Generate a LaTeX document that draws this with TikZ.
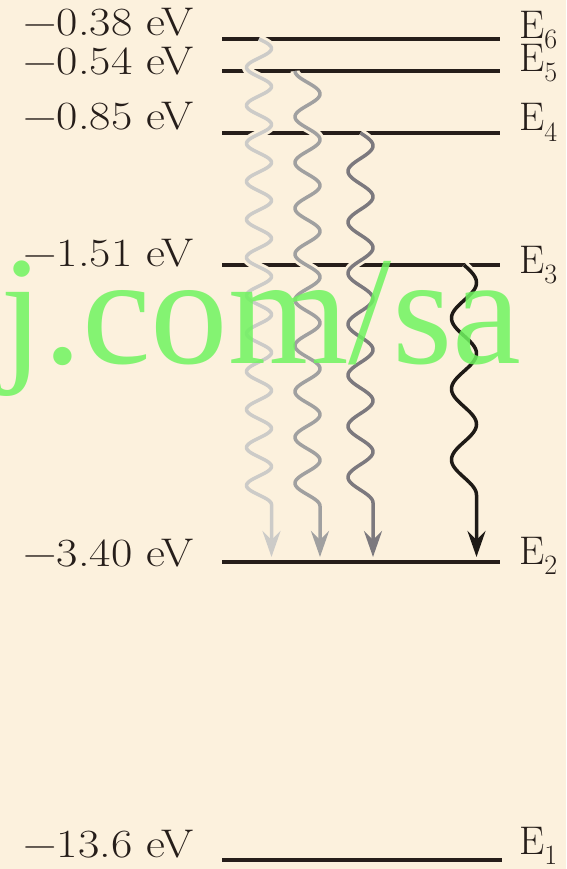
\documentclass[tikz,border=0pt]{standalone}
\usepackage{fontspec}
\usepackage{tikz}
\usetikzlibrary{arrows.meta,calc}
\newfontfamily\wmfont{Liberation Serif}
\definecolor{paper}{RGB}{252,241,221}
\definecolor{lvlink}{RGB}{38,30,26}
\definecolor{wmgreen}{RGB}{112,244,96}
\definecolor{ph6}{RGB}{204,203,200}
\definecolor{ph5}{RGB}{160,160,160}
\definecolor{ph4}{RGB}{124,121,126}
\definecolor{ph3}{RGB}{30,26,22}
\newcommand{\evlbl}[1]{\scalebox{1.16}[1]{−#1 eV}}

\begin{document}
\begin{tikzpicture}[
  x=1pt, y=1pt,
  font=\fontsize{40}{42}\selectfont,
  level/.style={draw=lvlink, line width=4pt},
  val/.style={anchor=base east, text=lvlink, inner sep=0pt},
  sym/.style={anchor=base west, text=lvlink, inner sep=0pt},
  photon/.style={line width=3.5pt, line join=round,
     -{Stealth[length=26pt, width=18pt, inset=9pt]},
     preaction={draw=paper, line width=9pt, -}},
  wmark/.style={anchor=base west, text=wmgreen, text opacity=0.85, inner sep=0pt,
     font=\wmfont\fontsize{155}{155}\selectfont},
]
\useasboundingbox (0,0) rectangle (566,869);
\fill[paper] (0,0) rectangle (566,869);

% ---- energy levels ----
\coordinate (e6l) at (222,830); \coordinate (e6r) at (500,830);
\coordinate (e5l) at (222,798); \coordinate (e5r) at (500,798);
\coordinate (e4l) at (222,736); \coordinate (e4r) at (500,736);
\coordinate (e3l) at (222,604); \coordinate (e3r) at (500,604);
\coordinate (e2l) at (222,307); \coordinate (e2r) at (500,307);
\coordinate (e1l) at (222,9);   \coordinate (e1r) at (502,9);
\draw[level] (e6l) -- (e6r);
\draw[level] (e5l) -- (e5r);
\draw[level] (e4l) -- (e4r);
\draw[level] (e3l) -- (e3r);
\draw[level] (e2l) -- (e2r);
\draw[level] (e1l) -- (e1r);

% ---- energies on the left ----
\node[val] (v6) at (194,833) {\evlbl{0.38}};
\node[val] (v5) at (194,794) {\evlbl{0.54}};
\node[val] (v4) at (194,739) {\evlbl{0.85}};
\node[val] (v3) at (194,602) {\evlbl{1.51}};
\node[val] (v2) at (194,302) {\evlbl{3.40}};
\node[val] (v1) at (194,12)  {\evlbl{13.6}};

% ---- level names on the right ----
\node[sym] (n6) at (519,830) {E\textsubscript{6}};
\node[sym] (n5) at (519,797) {E\textsubscript{5}};
\node[sym] (n4) at (519,738) {E\textsubscript{4}};
\node[sym] (n3) at (519,595) {E\textsubscript{3}};
\node[sym] (n2) at (519,304) {E\textsubscript{2}};
\node[sym] (n1) at (519,14)  {E\textsubscript{1}};

% ---- photons emitted down to E2 ----
\coordinate (s6) at (259,830);   \coordinate (t6) at (271.5,312);
\coordinate (s5) at (295,798);   \coordinate (t5) at (320,312);
\coordinate (s4) at (360.5,736); \coordinate (t4) at (373,312);
\coordinate (s3) at (464,604);   \coordinate (t3) at (476.5,312);
\begin{scope}[shift={(s6)}]
  \draw[photon, draw=ph6] plot[domain=0:465.5, samples=400]
    ({12.5*sin(\x/38*360)}, {-\x}) -- (t6);
\end{scope}
\begin{scope}[shift={(s5)}]
  \draw[photon, draw=ph5] plot[domain=0:435.1, samples=400]
    ({12.5+12.5*sin(\x/45.8*360-90)}, {-\x}) -- (t5);
\end{scope}
\begin{scope}[shift={(s4)}]
  \draw[photon, draw=ph4] plot[domain=0:369.75, samples=300]
    ({12.5*sin(\x/51*360)}, {-\x}) -- (t4);
\end{scope}
\begin{scope}[shift={(s3)}]
  \draw[photon, draw=ph3] plot[domain=0:230.1, samples=200]
    ({12.5*sin(\x/70.8*360)}, {-\x}) -- (t3);
\end{scope}

% ---- overprinted mark ----
\node[wmark] (wm) at (0,505) {j.com/sa};

\end{tikzpicture}
\end{document}
